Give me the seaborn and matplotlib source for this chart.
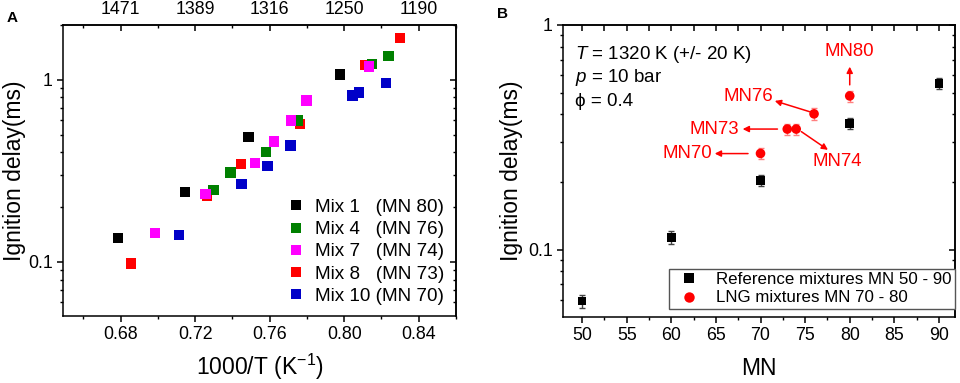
import pandas as pd
import seaborn as sns
import matplotlib.pyplot as plt
from matplotlib.ticker import FixedLocator, MultipleLocator, FuncFormatter, NullFormatter
from matplotlib.lines import Line2D

# ---- panel A data: 1000/T vs ignition delay for each LNG mixture ----
mix_labels = ['Mix 1   (MN 80)', 'Mix 4   (MN 76)', 'Mix 7   (MN 74)', 'Mix 8   (MN 73)', 'Mix 10 (MN 70)']
mix_colors = ['#000000', '#008000', '#ff00ff', '#ff0000', '#0000c8']

mix1_x = [0.6786, 0.7145, 0.7486, 0.7977]
mix1_y = [0.135, 0.242, 0.484, 1.07]
mix4_x = [0.7298, 0.7389, 0.7581, 0.7749, 0.8148, 0.8238]
mix4_y = [0.249, 0.310, 0.401, 0.598, 1.22, 1.355]
mix7_x = [0.6984, 0.7255, 0.7522, 0.7623, 0.7716, 0.7798, 0.8133]
mix7_y = [0.144, 0.2365, 0.348, 0.458, 0.598, 0.770, 1.183]
mix8_x = [0.6855, 0.7265, 0.7446, 0.7763, 0.8112, 0.8301]
mix8_y = [0.0979, 0.231, 0.346, 0.573, 1.204, 1.694]
mix10_x = [0.7113, 0.7449, 0.7588, 0.7712, 0.8044, 0.8078, 0.8224]
mix10_y = [0.141, 0.268, 0.337, 0.436, 0.820, 0.852, 0.959]

bottom_ticks = [0.68, 0.72, 0.76, 0.80, 0.84]
top_tick_labels = ['1471', '1389', '1316', '1250', '1190']

# ---- panel B data: ignition delay vs methane number ----
ref_mn = [50, 60, 70, 80, 90]
ref_delay = [0.0591, 0.1135, 0.203, 0.365, 0.55]
ref_err = [0.004, 0.007, 0.012, 0.021, 0.032]
lng_mn = [70, 73, 74, 76, 80]
lng_delay = [0.268, 0.344, 0.344, 0.402, 0.483]
lng_err = [0.016, 0.019, 0.019, 0.023, 0.027]

sns.set_style('ticks')
plt.rcParams['font.family'] = ['Liberation Sans', 'DejaVu Sans']
plt.rcParams['mathtext.fontset'] = 'custom'
plt.rcParams['mathtext.rm'] = 'Liberation Sans'
plt.rcParams['mathtext.it'] = 'Liberation Sans:italic'
plt.rcParams['axes.edgecolor'] = 'black'
plt.rcParams['axes.linewidth'] = 1.1
plt.rcParams['text.color'] = 'black'
plt.rcParams['axes.labelcolor'] = 'black'
plt.rcParams['xtick.color'] = 'black'
plt.rcParams['ytick.color'] = 'black'

TICK = 12.8

fig = plt.figure(figsize=(9.6, 3.83), dpi=100)
axA = fig.add_axes([0.0656, 0.175, 0.4094, 0.760])
axB = fig.add_axes([0.5868, 0.173, 0.408, 0.762])


def style_ticks(ax):
    ax.tick_params(which='major', length=4, width=1.1)
    ax.tick_params(which='minor', length=2.5, width=1.0)


# ---------------- panel A ----------------
frames = []
for lab, xs, ys in [(mix_labels[3], mix8_x, mix8_y), (mix_labels[4], mix10_x, mix10_y),
                    (mix_labels[0], mix1_x, mix1_y), (mix_labels[1], mix4_x, mix4_y),
                    (mix_labels[2], mix7_x, mix7_y)]:
    frames.append(pd.DataFrame({'x': xs, 'y': ys, 'mix': lab}))
dfA = pd.concat(frames, ignore_index=True)
palA = dict(zip(mix_labels, mix_colors))
sns.scatterplot(data=dfA, x='x', y='y', hue='mix', palette=palA, marker='s', s=55,
                edgecolor='none', legend=False, ax=axA)
axA.set_yscale('log')
axA.set_xlim(0.649, 0.860)
axA.set_ylim(0.0505, 2.0)
axA.xaxis.set_major_locator(FixedLocator(bottom_ticks))
axA.xaxis.set_minor_locator(MultipleLocator(0.02))
axA.xaxis.set_major_formatter(FuncFormatter(lambda v, p: f'{v:.2f}'))
axA.yaxis.set_major_formatter(FuncFormatter(lambda v, p: f'{v:g}'))
axA.yaxis.set_minor_formatter(NullFormatter())
axA.tick_params(which='both', direction='out', top=False, right=False, labelsize=TICK)
style_ticks(axA)
axA.set_xlabel('1000/T (K$^{-1}$)', fontsize=16.5, labelpad=6)
axA.set_ylabel('Ignition delay(ms)', fontsize=16.5, labelpad=1)

topA = axA.secondary_xaxis('top')
topA.xaxis.set_major_locator(FixedLocator(bottom_ticks))
topA.xaxis.set_minor_locator(MultipleLocator(0.02))
topA.set_xticklabels(top_tick_labels)
topA.tick_params(which='both', direction='in', labelsize=TICK, pad=5)
style_ticks(topA)

rightA = axA.secondary_yaxis('right')
rightA.tick_params(which='both', direction='in', labelright=False)
style_ticks(rightA)
rightA.yaxis.set_major_formatter(NullFormatter())
rightA.yaxis.set_minor_formatter(NullFormatter())

handlesA = [Line2D([], [], ls='none', marker='s', markersize=7, color=c, markeredgewidth=0)
            for c in mix_colors]
axA.legend(handlesA, mix_labels, loc='lower right', frameon=False, fontsize=13.6,
           handlelength=1.0, handletextpad=0.55, labelspacing=0.26, borderaxespad=0.2)

# ---------------- panel B ----------------
dfB = pd.concat([
    pd.DataFrame({'mn': ref_mn, 'delay': ref_delay, 'set': 'ref'}),
    pd.DataFrame({'mn': lng_mn, 'delay': lng_delay, 'set': 'lng'}),
], ignore_index=True)
axB.errorbar(ref_mn, ref_delay, yerr=ref_err, fmt='none', ecolor='#444444', elinewidth=1, capsize=2)
axB.errorbar(lng_mn, lng_delay, yerr=lng_err, fmt='none', ecolor='#ff8080', elinewidth=1, capsize=2)
sns.scatterplot(data=dfB[dfB['set'] == 'ref'], x='mn', y='delay', color='black', marker='s',
                s=38, edgecolor='none', ax=axB, legend=False, zorder=3)
sns.scatterplot(data=dfB[dfB['set'] == 'lng'], x='mn', y='delay', color='#ff0000', marker='o',
                s=48, edgecolor='none', ax=axB, legend=False, zorder=3)
axB.set_yscale('log')
axB.set_xlim(47.9, 91.8)
axB.set_ylim(0.0503, 1.0)
axB.xaxis.set_major_locator(MultipleLocator(5))
axB.xaxis.set_minor_locator(MultipleLocator(2.5))
axB.yaxis.set_major_formatter(FuncFormatter(lambda v, p: f'{v:g}'))
axB.yaxis.set_minor_formatter(NullFormatter())
axB.tick_params(which='both', direction='out', top=False, right=False, labelsize=TICK)
style_ticks(axB)
axB.set_xlabel('MN', fontsize=16.5, labelpad=9)
axB.set_ylabel('Ignition delay(ms)', fontsize=16.5, labelpad=4)

topB = axB.secondary_xaxis('top')
topB.xaxis.set_major_locator(MultipleLocator(5))
topB.xaxis.set_minor_locator(MultipleLocator(2.5))
topB.tick_params(which='both', direction='in', labeltop=False)
topB.tick_params(which='both', length=4, width=1.1)
topB.xaxis.set_major_formatter(NullFormatter())

rightB = axB.secondary_yaxis('right')
rightB.tick_params(which='both', direction='in', labelright=False)
style_ticks(rightB)
rightB.yaxis.set_major_formatter(NullFormatter())
rightB.yaxis.set_minor_formatter(NullFormatter())

axB.text(0.03, 0.90, '$T$ = 1320 K (+/- 20 K)', transform=axB.transAxes, fontsize=13.5, va='center')
axB.text(0.03, 0.82, '$p$ = 10 bar', transform=axB.transAxes, fontsize=13.5, va='center')
axB.text(0.03, 0.737, 'ϕ = 0.4', transform=axB.transAxes, fontsize=13.5, va='center')

red = '#ff0000'
ANN = 13.4
arrow = dict(arrowstyle='-|>', color=red, lw=1.1, mutation_scale=9, shrinkA=0, shrinkB=0)
axB.text(80, 0.76, 'MN80', color=red, fontsize=ANN, ha='center', va='center')
axB.annotate('', xy=(80, 0.652), xytext=(80, 0.541), arrowprops=arrow)
axB.text(71.4, 0.48, 'MN76', color=red, fontsize=ANN, ha='right', va='center')
axB.annotate('', xy=(71.6, 0.459), xytext=(75.5, 0.411), arrowprops=arrow)
axB.text(67.6, 0.344, 'MN73', color=red, fontsize=ANN, ha='right', va='center')
axB.annotate('', xy=(68.0, 0.344), xytext=(71.9, 0.344), arrowprops=arrow)
axB.text(78.65, 0.246, 'MN74', color=red, fontsize=ANN, ha='center', va='center')
axB.annotate('', xy=(77.56, 0.278), xytext=(74.58, 0.335), arrowprops=arrow)
axB.text(64.6, 0.2676, 'MN70', color=red, fontsize=ANN, ha='right', va='center')
axB.annotate('', xy=(64.87, 0.2676), xytext=(68.6, 0.2676), arrowprops=arrow)

handlesB = [Line2D([], [], ls='none', marker='s', markersize=6.5, color='black', markeredgewidth=0),
            Line2D([], [], ls='none', marker='o', markersize=7.5, color=red, markeredgewidth=0)]
legB = axB.legend(handlesB, ['Reference mixtures MN 50 - 90', 'LNG mixtures MN 70 - 80'],
                  loc='lower right', bbox_to_anchor=(1.0, 0.027), borderaxespad=0, fontsize=12.2,
                  fancybox=False, framealpha=1, edgecolor='#555555', handlelength=2.0,
                  handletextpad=0.6, labelspacing=0.2, borderpad=0.2)
legB.get_frame().set_linewidth(1.0)

fig.text(0.0125, 0.953, 'A', fontsize=11, fontweight='bold', va='center', ha='center')
fig.text(0.523, 0.963, 'B', fontsize=11, fontweight='bold', va='center', ha='center')

fig.savefig('out.png', dpi=100)
